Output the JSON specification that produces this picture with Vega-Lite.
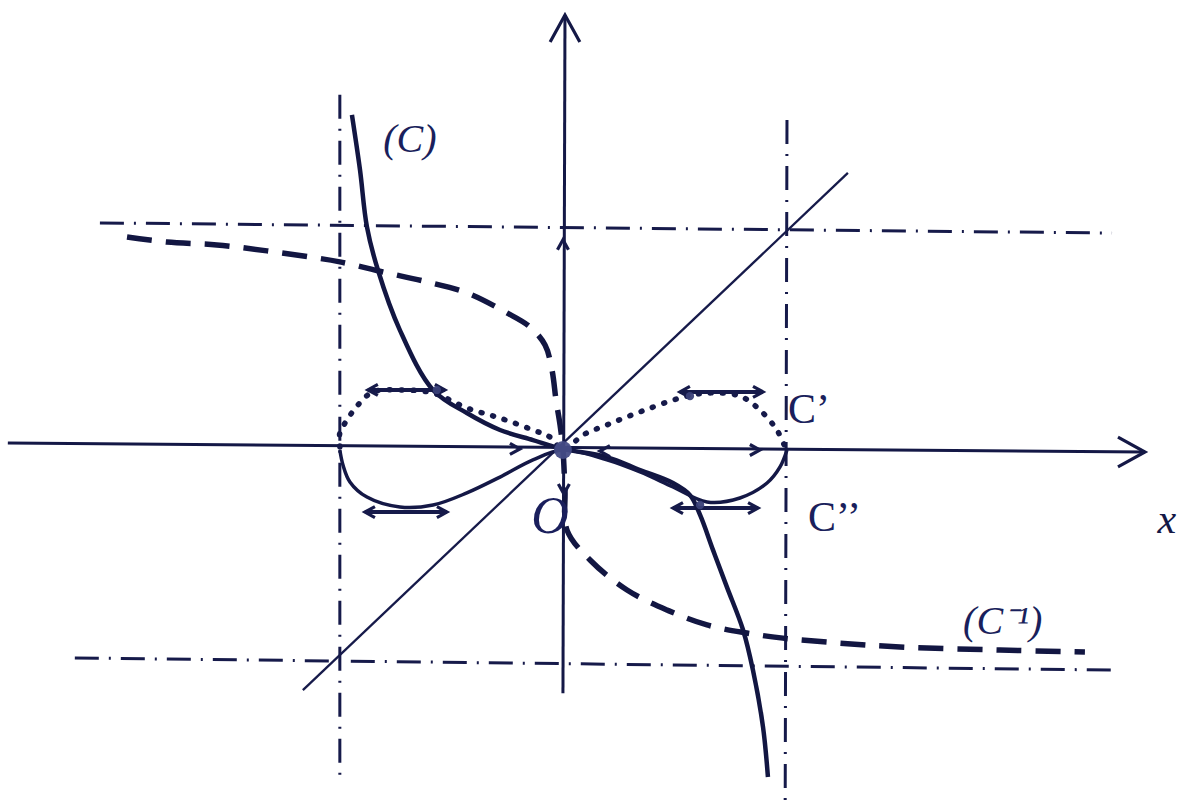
{
  "$schema": "https://vega.github.io/schema/vega-lite/v6.json",
  "width": 1177,
  "height": 810,
  "autosize": {"type": "fit", "contains": "padding"},
  "padding": 0,
  "background": "white",
  "config": {"view": {"stroke": null}},
  "datasets": {
    "segments": [
      {"kind": "asymptote", "x": -0.996, "y": 1.614, "x2": -0.996, "y2": -1.5},
      {"kind": "asymptote", "x": 1.0, "y": 1.5, "x2": 0.992, "y2": -1.591},
      {"kind": "asymptote", "x": -2.067, "y": 1.032, "x2": 2.451, "y2": 0.986},
      {"kind": "asymptote", "x": -2.179, "y": -0.945, "x2": 2.451, "y2": -1.0},
      {"kind": "axis", "x": -2.478, "y": 0.032, "x2": 2.598, "y2": -0.009},
      {"kind": "axis", "x": 0.0, "y": -1.105, "x2": 0.009, "y2": 1.977},
      {"kind": "bisector", "x": -1.161, "y": -1.091, "x2": 1.272, "y2": 1.259},
      {"kind": "tangent", "x": -0.871, "y": 0.273, "x2": -0.527, "y2": 0.273},
      {"kind": "tangent", "x": -0.884, "y": -0.282, "x2": -0.518, "y2": -0.282},
      {"kind": "tangent", "x": 0.522, "y": 0.264, "x2": 0.893, "y2": 0.264},
      {"kind": "tangent", "x": 0.491, "y": -0.264, "x2": 0.871, "y2": -0.264}
    ],
    "curves": [
      {"curve": "C", "i": 1, "x": -0.942, "y": 1.523},
      {"curve": "C", "i": 2, "x": -0.906, "y": 1.273},
      {"curve": "C", "i": 3, "x": -0.875, "y": 1.014},
      {"curve": "C", "i": 4, "x": -0.826, "y": 0.818},
      {"curve": "C", "i": 5, "x": -0.728, "y": 0.545},
      {"curve": "C", "i": 6, "x": -0.58, "y": 0.273},
      {"curve": "C", "i": 7, "x": -0.429, "y": 0.168},
      {"curve": "C", "i": 8, "x": -0.281, "y": 0.091},
      {"curve": "C", "i": 9, "x": -0.134, "y": 0.045},
      {"curve": "C", "i": 10, "x": 0.0, "y": 0.005},
      {"curve": "C", "i": 11, "x": 0.196, "y": -0.032},
      {"curve": "C", "i": 12, "x": 0.344, "y": -0.091},
      {"curve": "C", "i": 13, "x": 0.491, "y": -0.15},
      {"curve": "C", "i": 14, "x": 0.567, "y": -0.205},
      {"curve": "C", "i": 15, "x": 0.612, "y": -0.295},
      {"curve": "C", "i": 16, "x": 0.67, "y": -0.455},
      {"curve": "C", "i": 17, "x": 0.732, "y": -0.623},
      {"curve": "C", "i": 18, "x": 0.804, "y": -0.818},
      {"curve": "C", "i": 19, "x": 0.848, "y": -1.0},
      {"curve": "C", "i": 20, "x": 0.893, "y": -1.259},
      {"curve": "C", "i": 21, "x": 0.915, "y": -1.486},

      {"curve": "Cinv", "i": 1, "x": -1.946, "y": 0.968},
      {"curve": "Cinv", "i": 2, "x": -1.768, "y": 0.945},
      {"curve": "Cinv", "i": 3, "x": -1.545, "y": 0.932},
      {"curve": "Cinv", "i": 4, "x": -1.321, "y": 0.905},
      {"curve": "Cinv", "i": 5, "x": -1.129, "y": 0.877},
      {"curve": "Cinv", "i": 6, "x": -0.996, "y": 0.855},
      {"curve": "Cinv", "i": 7, "x": -0.804, "y": 0.809},
      {"curve": "Cinv", "i": 8, "x": -0.607, "y": 0.764},
      {"curve": "Cinv", "i": 9, "x": -0.429, "y": 0.714},
      {"curve": "Cinv", "i": 10, "x": -0.25, "y": 0.623},
      {"curve": "Cinv", "i": 11, "x": -0.147, "y": 0.559},
      {"curve": "Cinv", "i": 12, "x": -0.08, "y": 0.477},
      {"curve": "Cinv", "i": 13, "x": -0.049, "y": 0.364},
      {"curve": "Cinv", "i": 14, "x": -0.031, "y": 0.227},
      {"curve": "Cinv", "i": 15, "x": -0.013, "y": 0.114},
      {"curve": "Cinv", "i": 16, "x": 0.0, "y": 0.0},
      {"curve": "Cinv", "i": 17, "x": 0.009, "y": -0.182},
      {"curve": "Cinv", "i": 18, "x": 0.018, "y": -0.364},
      {"curve": "Cinv", "i": 19, "x": 0.121, "y": -0.5},
      {"curve": "Cinv", "i": 20, "x": 0.286, "y": -0.636},
      {"curve": "Cinv", "i": 21, "x": 0.464, "y": -0.727},
      {"curve": "Cinv", "i": 22, "x": 0.643, "y": -0.795},
      {"curve": "Cinv", "i": 23, "x": 0.821, "y": -0.832},
      {"curve": "Cinv", "i": 24, "x": 0.982, "y": -0.855},
      {"curve": "Cinv", "i": 25, "x": 1.179, "y": -0.873},
      {"curve": "Cinv", "i": 26, "x": 1.504, "y": -0.895},
      {"curve": "Cinv", "i": 27, "x": 1.951, "y": -0.909},
      {"curve": "Cinv", "i": 28, "x": 2.33, "y": -0.918},

      {"curve": "Cprime", "i": 1, "x": -0.996, "y": 0.014},
      {"curve": "Cprime", "i": 2, "x": -0.996, "y": 0.077},
      {"curve": "Cprime", "i": 3, "x": -0.964, "y": 0.136},
      {"curve": "Cprime", "i": 4, "x": -0.915, "y": 0.205},
      {"curve": "Cprime", "i": 5, "x": -0.848, "y": 0.264},
      {"curve": "Cprime", "i": 6, "x": -0.728, "y": 0.273},
      {"curve": "Cprime", "i": 7, "x": -0.58, "y": 0.259},
      {"curve": "Cprime", "i": 8, "x": -0.429, "y": 0.191},
      {"curve": "Cprime", "i": 9, "x": -0.281, "y": 0.145},
      {"curve": "Cprime", "i": 10, "x": -0.134, "y": 0.091},
      {"curve": "Cprime", "i": 11, "x": -0.058, "y": 0.059},
      {"curve": "Cprime", "i": 12, "x": 0.0, "y": 0.0},
      {"curve": "Cprime", "i": 13, "x": 0.089, "y": 0.068},
      {"curve": "Cprime", "i": 14, "x": 0.196, "y": 0.114},
      {"curve": "Cprime", "i": 15, "x": 0.344, "y": 0.173},
      {"curve": "Cprime", "i": 16, "x": 0.522, "y": 0.236},
      {"curve": "Cprime", "i": 17, "x": 0.643, "y": 0.259},
      {"curve": "Cprime", "i": 18, "x": 0.79, "y": 0.245},
      {"curve": "Cprime", "i": 19, "x": 0.879, "y": 0.182},
      {"curve": "Cprime", "i": 20, "x": 0.955, "y": 0.091},
      {"curve": "Cprime", "i": 21, "x": 0.991, "y": 0.014},

      {"curve": "Csecond", "i": 1, "x": -0.996, "y": 0.0},
      {"curve": "Csecond", "i": 2, "x": -0.982, "y": -0.068},
      {"curve": "Csecond", "i": 3, "x": -0.951, "y": -0.145},
      {"curve": "Csecond", "i": 4, "x": -0.875, "y": -0.214},
      {"curve": "Csecond", "i": 5, "x": -0.728, "y": -0.259},
      {"curve": "Csecond", "i": 6, "x": -0.58, "y": -0.25},
      {"curve": "Csecond", "i": 7, "x": -0.429, "y": -0.195},
      {"curve": "Csecond", "i": 8, "x": -0.281, "y": -0.123},
      {"curve": "Csecond", "i": 9, "x": -0.134, "y": -0.045},
      {"curve": "Csecond", "i": 10, "x": 0.0, "y": 0.0},
      {"curve": "Csecond", "i": 11, "x": 0.196, "y": -0.045},
      {"curve": "Csecond", "i": 12, "x": 0.344, "y": -0.1},
      {"curve": "Csecond", "i": 13, "x": 0.491, "y": -0.168},
      {"curve": "Csecond", "i": 14, "x": 0.643, "y": -0.236},
      {"curve": "Csecond", "i": 15, "x": 0.79, "y": -0.218},
      {"curve": "Csecond", "i": 16, "x": 0.911, "y": -0.15},
      {"curve": "Csecond", "i": 17, "x": 0.969, "y": -0.077},
      {"curve": "Csecond", "i": 18, "x": 1.0, "y": 0.0}
    ],
    "arrows": [
      {"kind": "axis", "x": 2.598, "y": -0.009, "angle": 0},
      {"kind": "axis", "x": 0.009, "y": 1.977, "angle": 270},
      {"kind": "small", "x": 0.0, "y": 0.955, "angle": 270},
      {"kind": "small", "x": 0.004, "y": -0.2, "angle": 90},
      {"kind": "small", "x": -0.192, "y": 0.005, "angle": 0},
      {"kind": "small", "x": 0.165, "y": -0.005, "angle": 180},
      {"kind": "small", "x": 0.879, "y": 0.0, "angle": 0},
      {"kind": "small", "x": -0.871, "y": 0.273, "angle": 180},
      {"kind": "small", "x": -0.527, "y": 0.273, "angle": 0},
      {"kind": "small", "x": -0.884, "y": -0.282, "angle": 180},
      {"kind": "small", "x": -0.518, "y": -0.282, "angle": 0},
      {"kind": "small", "x": 0.522, "y": 0.264, "angle": 180},
      {"kind": "small", "x": 0.893, "y": 0.264, "angle": 0},
      {"kind": "small", "x": 0.491, "y": -0.264, "angle": 180},
      {"kind": "small", "x": 0.871, "y": -0.264, "angle": 0}
    ],
    "dots": [
      {"kind": "origin", "x": 0.0, "y": 0.0},
      {"kind": "contact", "x": -0.563, "y": 0.273},
      {"kind": "contact", "x": 0.567, "y": 0.245},
      {"kind": "contact", "x": 0.612, "y": -0.25}
    ],
    "labels": [
      {"name": "C", "label": "(C)", "x": -0.683, "y": 1.409},
      {"name": "O", "label": "O", "x": -0.058, "y": -0.305},
      {"name": "x", "label": "x", "x": 2.696, "y": -0.318},
      {"name": "Cp", "label": "C’", "x": 1.004, "y": 0.182},
      {"name": "Cs", "label": "C’’", "x": 1.094, "y": -0.309},
      {"name": "Ci", "label": "(C⁻¹)", "x": 1.786, "y": -0.782}
    ]
  },
  "encoding": {
    "x": {"field": "x", "type": "quantitative", "scale": {"domain": [-2.513, 2.741], "nice": false, "zero": false}, "axis": null},
    "y": {"field": "y", "type": "quantitative", "scale": {"domain": [-1.636, 2.045], "nice": false, "zero": false}, "axis": null}
  },
  "layer": [
    {
      "data": {"name": "segments"},
      "transform": [{"filter": "datum.kind === 'asymptote'"}],
      "mark": {"type": "rule", "color": "#161a4a", "strokeWidth": 3, "strokeDash": [24, 10, 2, 10]},
      "encoding": {"x2": {"field": "x2"}, "y2": {"field": "y2"}}
    },
    {
      "data": {"name": "segments"},
      "transform": [{"filter": "datum.kind === 'axis'"}],
      "mark": {"type": "rule", "color": "#141846", "strokeWidth": 3},
      "encoding": {"x2": {"field": "x2"}, "y2": {"field": "y2"}}
    },
    {
      "data": {"name": "segments"},
      "transform": [{"filter": "datum.kind === 'bisector'"}],
      "mark": {"type": "rule", "color": "#161a4a", "strokeWidth": 2.3},
      "encoding": {"x2": {"field": "x2"}, "y2": {"field": "y2"}}
    },
    {
      "data": {"name": "segments"},
      "transform": [{"filter": "datum.kind === 'tangent'"}],
      "mark": {"type": "rule", "color": "#161a4a", "strokeWidth": 4},
      "encoding": {"x2": {"field": "x2"}, "y2": {"field": "y2"}}
    },
    {
      "data": {"name": "curves"},
      "transform": [{"filter": "datum.curve === 'C'"}],
      "mark": {"type": "line", "color": "#121642", "strokeWidth": 4.5, "interpolate": "catmull-rom"},
      "encoding": {"order": {"field": "i", "type": "quantitative"}}
    },
    {
      "data": {"name": "curves"},
      "transform": [{"filter": "datum.curve === 'Cinv'"}],
      "mark": {"type": "line", "color": "#121642", "strokeWidth": 5.5, "strokeDash": [25, 14], "interpolate": "catmull-rom"},
      "encoding": {"order": {"field": "i", "type": "quantitative"}}
    },
    {
      "data": {"name": "curves"},
      "transform": [{"filter": "datum.curve === 'Cprime'"}],
      "mark": {"type": "line", "color": "#161a4a", "strokeWidth": 5.5, "strokeDash": [1, 11], "strokeCap": "round", "interpolate": "catmull-rom"},
      "encoding": {"order": {"field": "i", "type": "quantitative"}}
    },
    {
      "data": {"name": "curves"},
      "transform": [{"filter": "datum.curve === 'Csecond'"}],
      "mark": {"type": "line", "color": "#141846", "strokeWidth": 3.5, "interpolate": "catmull-rom"},
      "encoding": {"order": {"field": "i", "type": "quantitative"}}
    },
    {
      "data": {"name": "arrows"},
      "transform": [{"filter": "datum.kind === 'axis'"}],
      "mark": {"type": "point", "shape": "M -2 -1.1 L 0 0 L -2 1.1", "filled": false, "stroke": "#141846", "strokeWidth": 3.2, "size": 729, "opacity": 1},
      "encoding": {"angle": {"field": "angle", "type": "quantitative", "scale": null}}
    },
    {
      "data": {"name": "arrows"},
      "transform": [{"filter": "datum.kind === 'small'"}],
      "mark": {"type": "point", "shape": "M -2 -1.1 L 0 0 L -2 1.1", "filled": false, "stroke": "#161a4a", "strokeWidth": 3.2, "size": 100, "opacity": 1},
      "encoding": {"angle": {"field": "angle", "type": "quantitative", "scale": null}}
    },
    {
      "data": {"name": "dots"},
      "transform": [{"filter": "datum.kind === 'origin'"}],
      "mark": {"type": "point", "shape": "circle", "filled": true, "color": "#454c86", "size": 320, "opacity": 0.95}
    },
    {
      "data": {"name": "dots"},
      "transform": [{"filter": "datum.kind === 'contact'"}],
      "mark": {"type": "point", "shape": "circle", "filled": true, "color": "#3a4078", "size": 70, "opacity": 0.95}
    },
    {
      "data": {"name": "labels"},
      "transform": [{"filter": "datum.name === 'C'"}],
      "mark": {"type": "text", "font": "Liberation Serif", "fontStyle": "italic", "fontSize": 40, "color": "#1a1f5c", "align": "center", "baseline": "middle"},
      "encoding": {"text": {"field": "label"}}
    },
    {
      "data": {"name": "labels"},
      "transform": [{"filter": "datum.name === 'O'"}],
      "mark": {"type": "text", "font": "Liberation Serif", "fontStyle": "italic", "fontSize": 52, "color": "#1a1f5c", "align": "center", "baseline": "middle"},
      "encoding": {"text": {"field": "label"}}
    },
    {
      "data": {"name": "labels"},
      "transform": [{"filter": "datum.name === 'x'"}],
      "mark": {"type": "text", "font": "Liberation Serif", "fontStyle": "italic", "fontSize": 42, "color": "#141846", "align": "center", "baseline": "middle"},
      "encoding": {"text": {"field": "label"}}
    },
    {
      "data": {"name": "labels"},
      "transform": [{"filter": "datum.name === 'Cp' || datum.name === 'Cs'"}],
      "mark": {"type": "text", "font": "Liberation Serif", "fontSize": 42, "color": "#1a1f5c", "align": "left", "baseline": "middle"},
      "encoding": {"text": {"field": "label"}}
    },
    {
      "data": {"name": "labels"},
      "transform": [{"filter": "datum.name === 'Ci'"}],
      "mark": {"type": "text", "font": "Liberation Serif", "fontStyle": "italic", "fontSize": 40, "color": "#1a1f5c", "align": "left", "baseline": "middle"},
      "encoding": {"text": {"field": "label"}}
    }
  ]
}
